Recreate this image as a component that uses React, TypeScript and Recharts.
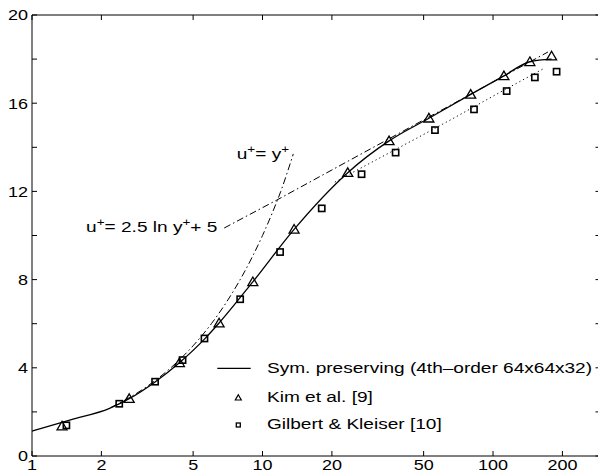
import React from "react";
import {
  ComposedChart,
  Line,
  Scatter,
  XAxis,
  YAxis,
  Legend,
} from "recharts";

// ---- data (y+ , u+) ----
const xTicks = [1, 2, 5, 10, 20, 50, 100, 200];
const yTicks = [0, 2, 4, 6, 8, 10, 12, 14, 16, 18, 20];

const symYPlus = [1.0, 1.47, 2.17, 2.64, 3.42, 4.36, 5.6, 6.48, 9.08, 13.71, 23.43, 35.4, 52.7, 80.0, 111.5, 144.5, 179.5];
const symU = [1.13, 1.64, 2.16, 2.6, 3.36, 4.23, 5.3, 6.03, 7.9, 10.28, 12.85, 14.29, 15.32, 16.4, 17.24, 17.88, 18.0];

const kimYPlus = [1.35, 2.64, 4.36, 6.48, 9.08, 13.71, 23.43, 35.4, 52.7, 80.0, 111.5, 144.5, 179.5];
const kimU = [1.36, 2.6, 4.23, 6.03, 7.9, 10.28, 12.85, 14.29, 15.32, 16.4, 17.24, 17.88, 18.14];

const gkYPlus = [1.41, 2.39, 3.42, 4.5, 5.6, 8.0, 11.92, 18.07, 26.9, 37.8, 56.0, 82.7, 114.6, 151.9, 188.7];
const gkU = [1.39, 2.37, 3.37, 4.35, 5.33, 7.11, 9.25, 11.23, 12.78, 13.76, 14.78, 15.72, 16.55, 17.17, 17.43];

const dotYPlus = [20.6, 28.3, 46.6, 67.2, 105.3, 167.9];
const dotU = [12.42, 13.2, 14.41, 15.31, 16.45, 17.6];

const linearYPlus = [2.2, 3, 4, 5, 6, 7, 8, 9, 10, 11, 12, 13.6];
const linearU = [2.2, 3, 4, 5, 6, 7, 8, 9, 10, 11, 12, 13.7];

const logLawYPlus = [6.82, 11.5, 173];
const logLawU = [10.34, 11.6, 18.32];

const labelLinearPos = [{ x: 7.73, y: 13.47 }];
const labelLogPos = [{ x: 6.37, y: 10.17 }];

const zip = (xs: number[], ys: number[]) => xs.map((x, i) => ({ x, y: ys[i] }));
const symData = zip(symYPlus, symU);
const kimData = zip(kimYPlus, kimU);
const gkData = zip(gkYPlus, gkU);
const dotData = zip(dotYPlus, dotU);
const linearData = zip(linearYPlus, linearU);
const logLawData = zip(logLawYPlus, logLawU);

const FONT = '"Liberation Sans", Arial, Helvetica, sans-serif';
const SX = 1.23;

const BottomTick = (p: any) => (
  <g>
    <line x1={p.x} x2={p.x} y1={p.y} y2={p.y - 5} stroke="#000" strokeWidth={1} />
    <text
      transform={`translate(${p.x},${p.y + 13.5}) scale(1.2,1)`}
      textAnchor="middle"
      fontSize={15}
      fontFamily={FONT}
      fill="#000"
    >
      {p.payload.value}
    </text>
  </g>
);
const TopTick = (p: any) => (
  <line x1={p.x} x2={p.x} y1={p.y} y2={p.y + 5} stroke="#000" strokeWidth={1} />
);
const LeftTick = (p: any) => (
  <g>
    <line x1={p.x} x2={p.x + 5} y1={p.y} y2={p.y} stroke="#000" strokeWidth={1} />
    {p.payload.value % 4 === 0 ? (
      <text
        transform={`translate(${p.x - 4},${p.y + 5.3}) scale(1.2,1)`}
        textAnchor="end"
        fontSize={15}
        fontFamily={FONT}
        fill="#000"
      >
        {p.payload.value}
      </text>
    ) : null}
  </g>
);
const RightTick = (p: any) => (
  <line x1={p.x} x2={p.x - 7.5} y1={p.y} y2={p.y} stroke="#000" strokeWidth={1} />
);

const Triangle = (p: any) => {
  const { cx, cy } = p;
  if (cx == null || cy == null) return null;
  return (
    <polygon
      points={`${cx},${cy - 4.8} ${cx + 5},${cy + 3.8} ${cx - 5},${cy + 3.8}`}
      fill="none"
      stroke="#000"
      strokeWidth={1.3}
    />
  );
};
const Square = (p: any) => {
  const { cx, cy } = p;
  if (cx == null || cy == null) return null;
  return (
    <rect x={cx - 3.1} y={cy - 3.1} width={6.2} height={6.2} fill="none" stroke="#000" strokeWidth={1.6} />
  );
};

const LabelLinear = (p: any) => {
  const { cx, cy } = p;
  if (cx == null || cy == null) return null;
  return (
    <text transform={`translate(${cx},${cy}) scale(${SX},1)`} fontSize={15.5} fontFamily={FONT} fill="#000">
      u<tspan dy={-6} fontSize={11}>+</tspan>
      <tspan dy={6}>= y</tspan>
      <tspan dy={-6} fontSize={11}>+</tspan>
    </text>
  );
};
const LabelLog = (p: any) => {
  const { cx, cy } = p;
  if (cx == null || cy == null) return null;
  return (
    <text
      transform={`translate(${cx},${cy}) scale(${SX},1)`}
      textAnchor="end"
      fontSize={15.5}
      fontFamily={FONT}
      fill="#000"
    >
      u<tspan dy={-6} fontSize={11}>+</tspan>
      <tspan dy={6}>= 2.5 ln y</tspan>
      <tspan dy={-6} fontSize={11}>+</tspan>
      <tspan dy={6}>+ 5</tspan>
    </text>
  );
};

const LegendBox = () => (
  <svg width={400} height={86} style={{ display: "block" }}>
    <line x1={12.3} x2={45.7} y1={16.3} y2={16.3} stroke="#000" strokeWidth={1.3} />
    <text transform={`translate(62,21.3) scale(${SX},1)`} fontSize={15.5} fontFamily={FONT} fill="#000">
      Sym. preserving (4th–order 64x64x32)
    </text>
    <polygon points="33.3,42.8 36.3,48 30.3,48" fill="none" stroke="#000" strokeWidth={1.2} />
    <text transform={`translate(62,49.7) scale(${SX},1)`} fontSize={15.5} fontFamily={FONT} fill="#000">
      Kim et al. [9]
    </text>
    <rect x={31.3} y={71} width={4} height={4} fill="none" stroke="#000" strokeWidth={1.3} />
    <text transform={`translate(62,77) scale(${SX},1)`} fontSize={15.5} fontFamily={FONT} fill="#000">
      Gilbert &amp; Kleiser [10]
    </text>
  </svg>
);

export default function App() {
  return (
    <div
      style={{
        position: "absolute",
        left: 0,
        top: 0,
        width: 598,
        height: 473,
        overflow: "hidden",
        background: "#fff",
      }}
    >
      <ComposedChart
        width={610}
        height={473}
        margin={{ top: 14, right: 6, bottom: 16, left: 31 }}
      >
        <XAxis
          xAxisId="b"
          dataKey="x"
          type="number"
          scale="log"
          domain={[1, 300]}
          allowDataOverflow
          ticks={xTicks}
          interval={0}
          orientation="bottom"
          height={1}
          tickSize={0}
          tickMargin={0}
          tickLine={false}
          axisLine={{ stroke: "#000", strokeWidth: 1 }}
          tick={<BottomTick />}
        />
        <XAxis
          xAxisId="t"
          dataKey="x"
          type="number"
          scale="log"
          domain={[1, 300]}
          allowDataOverflow
          ticks={xTicks}
          interval={0}
          orientation="top"
          height={1}
          tickSize={0}
          tickMargin={0}
          tickLine={false}
          axisLine={{ stroke: "#000", strokeWidth: 1 }}
          tick={<TopTick />}
        />
        <YAxis
          yAxisId="l"
          dataKey="y"
          type="number"
          domain={[0, 20]}
          allowDataOverflow
          ticks={yTicks}
          interval={0}
          orientation="left"
          width={1}
          tickSize={0}
          tickMargin={0}
          tickLine={false}
          axisLine={{ stroke: "#000", strokeWidth: 1 }}
          tick={<LeftTick />}
        />
        <YAxis
          yAxisId="r"
          dataKey="y"
          type="number"
          domain={[0, 20]}
          allowDataOverflow
          ticks={yTicks}
          interval={0}
          orientation="right"
          width={1}
          tickSize={0}
          tickMargin={0}
          tickLine={false}
          axisLine={{ stroke: "#000", strokeWidth: 1 }}
          tick={<RightTick />}
        />
        <Legend
          layout="horizontal"
          verticalAlign="middle"
          align="center"
          wrapperStyle={{ left: 205, top: 352, width: 400, height: 86 }}
          content={() => <LegendBox />}
        />
        <Line
          xAxisId="b"
          yAxisId="l"
          data={linearData}
          dataKey="y"
          type="monotone"
          stroke="#000"
          strokeWidth={1}
          strokeDasharray="7 3 1.5 3"
          dot={false}
          isAnimationActive={false}
        />
        <Line
          xAxisId="b"
          yAxisId="l"
          data={logLawData}
          dataKey="y"
          type="linear"
          stroke="#000"
          strokeWidth={1}
          strokeDasharray="7 3 1.5 3"
          dot={false}
          isAnimationActive={false}
        />
        <Line
          xAxisId="b"
          yAxisId="l"
          data={dotData}
          dataKey="y"
          type="linear"
          stroke="#000"
          strokeWidth={1}
          strokeDasharray="1.2 3"
          dot={false}
          isAnimationActive={false}
        />
        <Line
          xAxisId="b"
          yAxisId="l"
          data={symData}
          dataKey="y"
          type="monotone"
          stroke="#000"
          strokeWidth={1.3}
          dot={false}
          isAnimationActive={false}
        />
        <Scatter
          xAxisId="b"
          yAxisId="l"
          data={kimData}
          dataKey="y"
          shape={<Triangle />}
          isAnimationActive={false}
        />
        <Scatter
          xAxisId="b"
          yAxisId="l"
          data={gkData}
          dataKey="y"
          shape={<Square />}
          isAnimationActive={false}
        />
        <Scatter
          xAxisId="b"
          yAxisId="l"
          data={labelLinearPos}
          dataKey="y"
          shape={<LabelLinear />}
          isAnimationActive={false}
        />
        <Scatter
          xAxisId="b"
          yAxisId="l"
          data={labelLogPos}
          dataKey="y"
          shape={<LabelLog />}
          isAnimationActive={false}
        />
      </ComposedChart>
    </div>
  );
}
